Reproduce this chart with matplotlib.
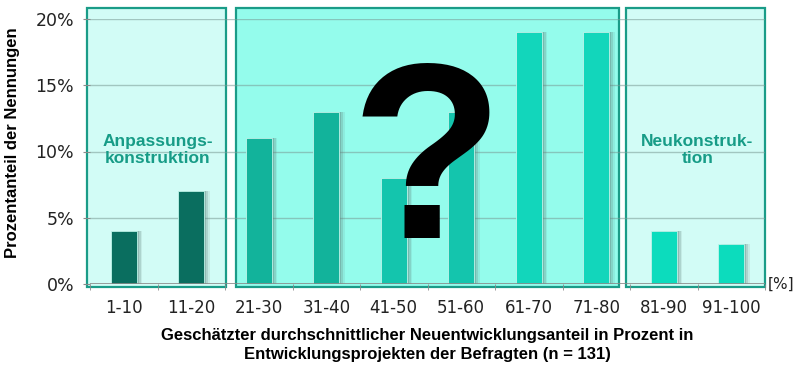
import matplotlib.pyplot as plt
from matplotlib.patches import Rectangle
import numpy as np

# Daten
kategorien = ['1-10', '11-20', '21-30', '31-40', '41-50', '51-60',
              '61-70', '71-80', '81-90', '91-100']
anteile = [4, 7, 11, 13, 8, 13, 19, 19, 4, 3]
farben = ['#0A6E5F', '#0A6E5F', '#12B39B', '#12B39B', '#14C5AD', '#14C5AD',
          '#12D6BB', '#12D6BB', '#0CDCBD', '#0CDCBD']
y_ticks = [0, 5, 10, 15, 20]
y_ticklabels = ['0%', '5%', '10%', '15%', '20%']

fig = plt.figure(figsize=(7.95, 3.65), dpi=100)
ax = fig.add_axes([90 / 795, 81 / 365, 675 / 795, 265 / 365])

x = np.arange(len(kategorien))
ax.set_xlim(-0.5, 9.5)
ax.set_ylim(0, 20)

# Hintergrundfelder
rand = '#1A9C88'
for x0, x1, fc in [(-0.544, 1.515, '#D2FCF6'), (1.663, 7.337, '#94FCEC'),
                   (7.441, 9.5, '#D2FCF6')]:
    ax.add_patch(Rectangle((x0, -0.23), x1 - x0, 21.06, facecolor=fc,
                           edgecolor=rand, lw=1.6, zorder=0, clip_on=False))

# Gitter
for yv in y_ticks[1:]:
    ax.axhline(yv, color='#7a9a95', lw=1.0, alpha=0.55, zorder=1)
ax.axhline(0, color='#8a8a8a', lw=1.2, zorder=4)

# weicher Schatten + Balken
for dx, a in [(0.035, 0.32), (0.06, 0.22), (0.085, 0.12)]:
    ax.bar(x + dx, anteile, width=0.38, color='#5f7f7a', alpha=a, lw=0, zorder=2)
ax.bar(x, anteile, width=0.38, color=farben, edgecolor='#bff5ea', lw=0.6, zorder=3)

for s in ax.spines.values():
    s.set_visible(False)
ax.set_yticks(y_ticks)
ax.set_yticklabels(y_ticklabels, fontsize=12.5, color='#222222')
ax.tick_params(axis='y', length=5, color='#8a8a8a', pad=6.5)
ax.set_xticks(x)
ax.set_xticklabels(kategorien, fontsize=12, color='#222222')
ax.set_xticks(np.arange(-0.5, 10, 1), minor=True)
ax.tick_params(axis='x', which='major', length=0, pad=11)
ax.tick_params(axis='x', which='minor', length=4, color='#8a8a8a')

# Beschriftungen
gruen = '#179C87'
ax.text(0.5, 10.1, 'Anpassungs-\nkonstruktion', ha='center', va='center',
        fontsize=12.5, fontweight='bold', color=gruen, family='Liberation Sans', zorder=5)
ax.text(8.5, 10.1, 'Neukonstruk-\ntion', ha='center', va='center',
        fontsize=12.5, fontweight='bold', color=gruen, family='Liberation Sans', zorder=5)
fig.text(768 / 795, 1 - 284 / 365, '[%]', ha='left', va='center', fontsize=11, color='#222222')

fig.text(427 / 795, 1 - 238 / 365, '?', ha='center', va='baseline', fontsize=180,
         fontweight='bold', family='Liberation Sans', color='black', zorder=10)

fig.text(13 / 795, 1 - 143 / 365, 'Prozentanteil der Nennungen', rotation=90,
         ha='center', va='center', fontsize=12, fontweight='bold', family='Liberation Sans')
fig.text(427 / 795, 1 - 345 / 365,
         'Geschätzter durchschnittlicher Neuentwicklungsanteil in Prozent in\n'
         'Entwicklungsprojekten der Befragten (n = 131)',
         ha='center', va='center', fontsize=12, fontweight='bold',
         family='Liberation Sans', linespacing=1.3)

fig.savefig('out.png', dpi=100)
